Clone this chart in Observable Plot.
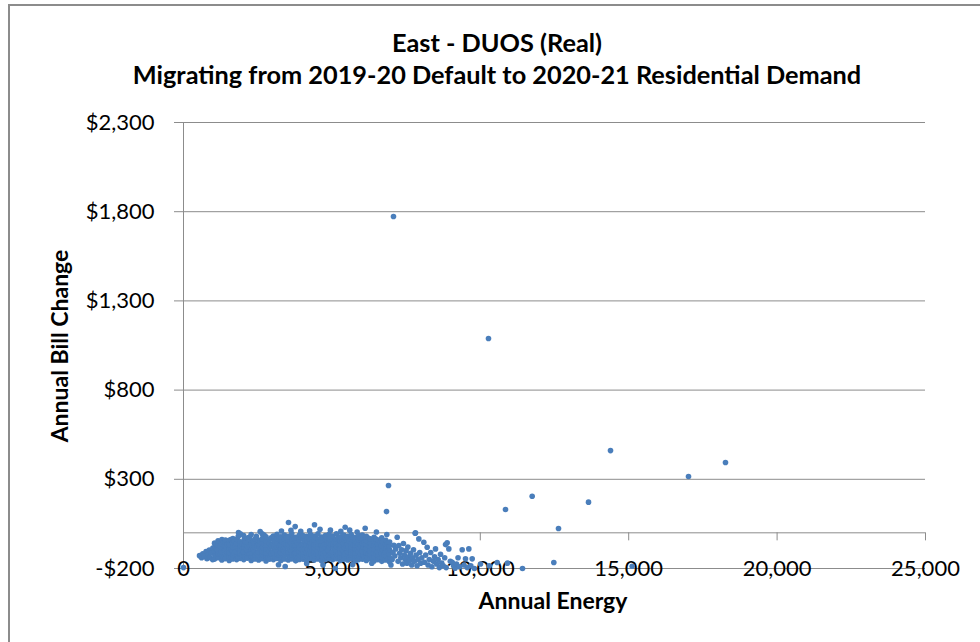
<!DOCTYPE html>
<html><head><meta charset="utf-8">
<script src="https://cdn.jsdelivr.net/npm/d3@7"></script>
<script src="https://cdn.jsdelivr.net/npm/@observablehq/plot@0.6"></script>
<style>
html,body{margin:0;padding:0;background:#fff;}
#wrap{position:relative;width:980px;height:642px;overflow:hidden;font-family:Lato,"Open Sans",sans-serif;color:#000;}
#frame{position:absolute;left:8px;top:4px;width:1000px;height:700px;border:2px solid #8c8c8c;box-sizing:border-box;}
.t{position:absolute;left:0;width:994px;text-align:center;font-weight:bold;font-size:25.3px;line-height:26px;white-space:nowrap;}
#ylab{position:absolute;left:59px;top:346px;transform:translate(-50%,-50%) rotate(-90deg);font-weight:bold;font-size:23px;line-height:23px;white-space:nowrap;}
#xlab{position:absolute;left:553px;top:600px;transform:translate(-50%,-50%);font-weight:bold;font-size:23px;line-height:23px;white-space:nowrap;}
#chart{position:absolute;left:0;top:0;}
</style></head>
<body>
<div id="wrap">
  <div id="frame"></div>
  <div id="chart"></div>
  <div class="t" style="top:29px">East - DUOS (Real)</div>
  <div class="t" style="top:61px">Migrating from 2019-20 Default to 2020-21 Residential Demand</div>
  <div id="ylab">Annual Bill Change</div>
  <div id="xlab">Annual Energy</div>
</div>
<script>
const titleLines = ["East - DUOS (Real)", "Migrating from 2019-20 Default to 2020-21 Residential Demand"];
const xTitle = "Annual Energy";
const yTitle = "Annual Bill Change";
const xTicks = [0, 5000, 10000, 15000, 20000, 25000];
const yTicks = [-200, 300, 800, 1300, 1800, 2300];

// [annual energy, annual bill change]
const outliers = [[0,-195],[6840,119],[6907,265],[7075,1773],[10276,1089],[10849,131],[11748,205],[12635,24],[13646,172],[14387,461],[17015,316],[18261,394],[12477,-166],[11422,-200],[15117,-187]];

const clusterLow = [
[540,-128],[610,-140],[650,-118],[700,-132],[760,-105],[790,-145],[830,-122],[870,-96],[900,-138],[940,-112],[980,-150],[990,-85],
[1040,-148],[1055,-125],[1030,-102],[1060,-80],[1045,-58],
[1100,-135],[1110,-90],[1095,-60],
[1160,-140],[1175,-118],[1150,-95],[1170,-70],[1165,-45],
[1230,-115],[1240,-75],
[1290,-152],[1300,-130],[1280,-108],[1305,-86],[1285,-62],[1295,-38],
[1350,-140],[1360,-95],[1345,-50],
[1410,-145],[1425,-120],[1400,-98],[1420,-75],[1405,-52],[1415,-40],
[1470,-110],[1480,-65],
[1540,-155],[1550,-132],[1530,-110],[1555,-88],[1535,-65],[1545,-42],
[1600,-140],[1610,-97],[1595,-38],
[1660,-147],[1675,-124],[1650,-101],[1670,-79],[1655,-56],[1665,-32],
[1720,-115],[1730,-70],[1715,-45],
[1790,-150],[1800,-128],[1780,-105],[1805,-83],[1785,-60],[1795,-37],
[1850,-138],[1860,-92],[1853,2],[1845,-20],
[1910,-143],[1925,-120],[1900,-97],[1920,-74],[1905,-50],[1915,-5],
[1970,-130],[1980,-85],[1965,-62]
];

const clusterMid = [
[2030,-150],[2045,-128],[2020,-106],[2050,-84],[2035,-62],[2040,-40],[2025,-15],
[2090,-137],[2100,-93],[2085,-50],
[2150,-142],[2165,-120],[2140,-98],[2160,-76],[2145,-54],[2155,-30],
[2220,-118],[2230,-72],[2215,-25],
[2280,-155],[2295,-133],[2270,-111],[2290,-89],[2275,-67],[2285,-45],[2280,-10],
[2340,-140],[2350,-95],[2335,-55],
[2400,-147],[2415,-124],[2390,-102],[2410,-80],[2395,-58],[2405,-35],
[2460,-115],[2470,-70],[2455,-20],
[2530,-152],[2545,-130],[2520,-108],[2540,-86],[2525,-64],[2535,-42],[2583,7],
[2590,-138],[2600,-92],[2585,-48],
[2650,-145],[2665,-122],[2640,-100],[2660,-78],[2645,-56],[2655,-32],[2650,-5],
[2720,-110],[2730,-66],[2715,-12],
[2780,-158],[2795,-135],[2770,-113],[2790,-91],[2775,-69],[2785,-47],[2780,-22],
[2840,-140],[2850,-97],[2835,-52],
[2900,-148],[2915,-126],[2890,-104],[2910,-82],[2895,-60],[2905,-38],
[2960,-118],[2970,-73],[2955,-28],
[3030,-150],[3045,-128],[3020,-106],[3050,-84],[3035,-62],[3040,-40],[3025,-18],
[3090,-138],[3100,-95],[3085,-50],
[3150,-143],[3165,-121],[3140,-99],[3160,-77],[3145,-55],[3155,-32],[3150,-8],
[3201,-179],
[3220,-117],[3230,-72],[3215,-30],
[3280,-155],[3295,-133],[3270,-111],[3290,-89],[3275,-67],[3285,-45],[3280,-22],[3300,10],
[3340,-140],[3350,-96],[3335,-52],
[3400,-147],[3415,-125],[3390,-103],[3410,-81],[3395,-59],[3405,-36],[3400,-12],[3426,-189],
[3460,-114],[3470,-70],[3455,-26],
[3530,-152],[3545,-130],[3520,-108],[3540,-86],[3525,-64],[3535,-42],[3530,-20],[3538,58],
[3590,-138],[3600,-94],[3585,-50],[3620,14],
[3650,-146],[3665,-124],[3640,-102],[3660,-80],[3645,-58],[3655,-34],[3650,-5],
[3720,-116],[3730,-71],[3715,-28],[3763,35],
[3780,-157],[3795,-135],[3770,-113],[3790,-91],[3775,-69],[3785,-47],[3780,-25],
[3840,-140],[3850,-97],[3835,-55],
[3900,-149],[3915,-127],[3890,-105],[3910,-83],[3895,-61],[3905,-38],[3900,-14],
[3960,-115],[3970,-70],[3955,-25],[3950,8]
];

const clusterHigh = [
[4030,-148],[4045,-126],[4020,-104],[4050,-82],[4035,-60],[4040,-38],[4025,-15],
[4090,-137],[4100,-93],[4085,-48],
[4150,-155],[4165,-133],[4140,-111],[4160,-89],[4145,-67],[4155,-45],[4150,-20],[4150,-172],
[4220,-117],[4230,-71],[4215,-28],[4250,12],
[4280,-145],[4295,-123],[4270,-101],[4290,-79],[4275,-57],[4285,-34],[4280,-10],
[4340,-141],[4350,-96],[4335,-52],
[4400,-152],[4415,-130],[4390,-108],[4410,-86],[4395,-64],[4405,-42],[4400,-18],[4414,45],
[4460,-118],[4470,-73],[4455,-27],
[4530,-147],[4545,-125],[4520,-103],[4540,-81],[4525,-59],[4535,-36],[4530,-6],
[4590,-139],[4600,-92],[4585,-50],[4600,20],
[4650,-156],[4665,-134],[4640,-112],[4660,-90],[4645,-68],[4655,-46],[4650,-24],
[4700,-180],
[4710,-117],[4720,-74],[4705,-30],
[4780,-150],[4795,-128],[4770,-106],[4790,-84],[4775,-62],[4785,-40],[4780,-16],
[4840,-138],[4850,-95],[4835,-52],
[4900,-144],[4915,-122],[4890,-100],[4910,-78],[4895,-56],[4905,-33],[4900,-8],
[4960,-115],[4970,-68],[4955,-22],[4950,15],
[5030,-150],[5045,-128],[5020,-106],[5050,-84],[5035,-62],[5040,-40],[5025,-18],
[5090,-139],[5100,-94],[5085,-50],[5110,-200],
[5150,-145],[5165,-123],[5140,-101],[5160,-79],[5145,-57],[5155,-35],[5150,-5],
[5220,-116],[5230,-70],[5215,-28],
[5280,-155],[5295,-133],[5270,-111],[5290,-89],[5275,-67],[5285,-45],[5280,-22],[5300,8],
[5340,-140],[5350,-95],[5335,-52],
[5400,-148],[5415,-126],[5390,-104],[5410,-82],[5395,-60],[5405,-38],[5400,-12],[5447,31],
[5460,-117],[5470,-72],[5455,-30],
[5530,-152],[5545,-130],[5520,-108],[5540,-86],[5525,-64],[5535,-42],[5530,-20],
[5590,-138],[5600,-93],[5585,-48],[5600,15],
[5650,-146],[5665,-124],[5640,-102],[5660,-80],[5645,-58],[5655,-36],[5650,-10],
[5700,-178],
[5710,-115],[5720,-70],[5705,-26],
[5780,-156],[5795,-134],[5770,-112],[5790,-90],[5775,-68],[5785,-46],[5780,-25],
[5840,-140],[5850,-96],[5835,-55],[5850,5],
[5900,-150],[5915,-128],[5890,-106],[5910,-84],[5895,-62],[5905,-40],[5900,-15],
[5960,-116],[5970,-72],[5955,-30],
[6030,-148],[6045,-126],[6020,-104],[6050,-82],[6035,-60],[6040,-38],[6025,-12],
[6100,-138],[6110,-92],[6095,-50],[6121,26],
[6160,-155],[6175,-132],[6150,-110],[6170,-88],[6155,-66],[6165,-44],[6160,-20],
[6230,-118],[6240,-72],[6225,-30],
[6290,-145],[6305,-122],[6280,-100],[6300,-78],[6285,-56],[6295,-33],
[6345,-170],[6360,-140],[6370,-95],
[6420,-158],[6435,-136],[6410,-114],[6430,-92],[6415,-70],[6425,-48],[6420,-25],
[6490,-120],[6500,-75],[6485,-35],[6500,5],
[6550,-150],[6565,-128],[6540,-106],[6560,-84],[6545,-62],[6555,-40],
[6620,-145],[6630,-98],[6615,-55],
[6680,-160],[6695,-138],[6670,-116],[6690,-94],[6675,-72],[6685,-50],[6680,-28],
[6750,-125],[6760,-80],
[6810,-152],[6825,-130],[6800,-108],[6820,-86],[6805,-64],[6815,-42],[6850,-10],
[6880,-148],[6890,-100],[6875,-60],
[6940,-162],[6955,-140],[6930,-118],[6950,-96],[6935,-74],[6945,-52],[6990,-180]
];

const clusterTail = [
[7030,-150],[7060,-110],[7090,-70],[7120,-130],[7150,-90],[7200,-25],[7255,-71],[7230,-160],[7280,-115],[7320,-140],[7350,-95],[7380,-175],[7410,-60],[7440,-125],[7470,-150],[7500,-100],[7530,-170],[7560,-80],[7590,-135],[7620,-155],[7650,-115],[7690,-180],[7720,-140],[7750,-95],[7780,-160],[7806,-2],[7817,0],[7840,-125],[7870,-185],[7900,-150],[7929,-34],[7960,-110],[7990,-170],
[8030,-140],[8097,-53],[8120,-165],[8160,-125],[8210,-81],[8240,-180],[8280,-150],[8330,-110],[8370,-190],[8420,-160],[8460,-135],[8491,-90],[8530,-175],[8580,-150],[8620,-195],[8660,-120],[8700,-170],[8750,-185],[8800,-140],[8830,-66],[8850,-195],[8884,-56],[8940,-90],[8990,-160],[9052,-165],[9100,-185],[9150,-198],[9200,-175],[9250,-140],[9300,-190],[9390,-95],[9450,-180],[9501,-146],[9560,-195],[9614,-90],[9680,-185],[9727,-146],[9800,-200],
[10007,-175],[10300,-185],[10569,-166],[10916,-170]
];

const points = [...clusterLow, ...clusterMid, ...clusterHigh, ...clusterTail, ...outliers];
const money = d => (d < 0 ? "-$" : "$") + d3.format(",")(Math.abs(d));
const grid = "#8c8c8c";
const font = "Lato, 'Open Sans', sans-serif";

const chart = Plot.plot({
  width: 980, height: 642,
  marginLeft: 183, marginRight: 55, marginTop: 122, marginBottom: 74,
  x: {domain: [0, 25000]},
  y: {domain: [-200, 2300]},
  style: {fontFamily: font, background: "transparent", color: "#000"},
  marks: [
    Plot.gridY(yTicks, {stroke: grid, strokeOpacity: 1, strokeWidth: 1}),
    Plot.ruleX([0], {stroke: grid, strokeWidth: 1}),
    Plot.ruleY([0], {stroke: grid, strokeWidth: 1}),
    Plot.ruleX(xTicks.filter(d => d > 0), {x: d => d, y1: 0, y2: -45, stroke: grid}),
    Plot.axisY(yTicks, {tickSize: 9, tickPadding: 20, tickFormat: money, fontSize: 22, stroke: grid, fill: "#000", label: null}),
    Plot.axisX([], {label: null, tickSize: 0}),
    Plot.text(xTicks, {x: d => d, y: -200, text: d => d3.format(",")(d), fontSize: 22, lineAnchor: "middle", fill: "#000"}),
    Plot.dot(points, {x: d => d[0], y: d => d[1], r: 2.8, fill: "#4a7ebb", stroke: null})
  ]
});
document.getElementById("chart").appendChild(chart);
</script>
</body></html>
